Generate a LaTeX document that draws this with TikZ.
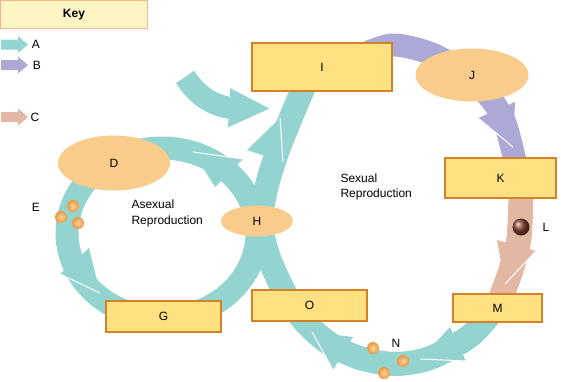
\documentclass[tikz,border=0pt]{standalone}
\usepackage{fontspec}
\setmainfont{Liberation Sans}
\usetikzlibrary{shapes,positioning}

\definecolor{tealband}{RGB}{148,212,208}
\definecolor{purpleband}{RGB}{173,169,214}
\definecolor{pinkband}{RGB}{226,183,164}
\definecolor{boxfill}{RGB}{255,225,130}
\definecolor{boxline}{RGB}{212,130,42}
\definecolor{blobfill}{RGB}{250,204,140}
\definecolor{keyfill}{RGB}{255,244,196}
\definecolor{keyline}{RGB}{242,180,140}
\definecolor{beadin}{RGB}{253,214,160}
\definecolor{beadout}{RGB}{236,150,62}
\definecolor{seedc}{RGB}{135,70,50}

% tip, barb with white edge, other barb, colour
\newcommand{\fathead}[4]{\fill[#4] #1 -- #2 -- #3 -- cycle; \draw[white, line width=1pt] #1 -- #2;}
% small key arrow at height #1
\newcommand{\keyarrow}[2]{\fill[#2] (1,#1-5) -- (18,#1-5) -- (18,#1-8.5) -- (28,#1) -- (18,#1+8.5) -- (18,#1+5) -- (1,#1+5) -- cycle;}

\begin{document}
\begin{tikzpicture}[x=1pt,y=-1pt,font=\fontsize{12}{15.5}\selectfont]
\tikzstyle{block} = [rectangle, draw=boxline, line width=1.5pt, fill=boxfill, inner sep=0pt]
\tikzstyle{blob} = [ellipse, fill=blobfill, inner sep=0pt]
\tikzstyle{band} = [line width=24pt, line cap=butt]
\tikzstyle{bead} = [circle, inner color=beadin, outer color=beadout, minimum size=12pt, inner sep=0pt]

\useasboundingbox (0,0) rectangle (561,381);

% key
\node [rectangle, draw=keyline, line width=1.5pt, fill=keyfill, minimum width=147pt, minimum height=28pt, inner sep=0pt, font=\fontsize{12}{15}\selectfont\bfseries] (key) at (74,14.5) {Key};
\keyarrow{44.5}{tealband}
\keyarrow{65}{purpleband}
\keyarrow{117}{pinkband}
\node (keya) at (36,44) {A};
\node (keyb) at (37,65) {B};
\node (keyc) at (35,117) {C};

% bands
\draw[band, tealband, line width=23pt] (162,233) ellipse [x radius=95, y radius=85];
\draw[band, tealband] plot[smooth] coordinates {(495,308) (470,336) (430,358) (395,364) (360,358) (330,344) (305,322) (285,293) (268,255) (261,221) (267,185) (278,150) (292,115) (306,82)};
\draw[band, tealband, line width=22pt] (185,77) .. controls (197,95) and (212,106) .. (232,108);
\draw[band, purpleband, line width=23pt] plot[smooth] coordinates {(355,58) (392,45) (432,54) (465,74) (490,98) (505,123) (516,165)};
\draw[band, pinkband, line width=25pt] plot[smooth] coordinates {(521,192) (519,238) (511,270) (500,300)};

% heads
\fathead{(100,293)}{(60,274)}{(89,248)}{tealband}
\fathead{(193,152)}{(243,159)}{(215,187)}{tealband}
\fathead{(420,359)}{(466,361)}{(450,327)}{tealband}
\fathead{(312,332)}{(333,370)}{(353,337)}{tealband}
\fathead{(280,118)}{(283,162)}{(247,150)}{tealband}
\fathead{(270,109)}{(228,128)}{(230,88)}{tealband}
\fathead{(513,147)}{(478,118)}{(515,102)}{purpleband}
\fathead{(505,284)}{(536,251)}{(497,240)}{pinkband}

% stages
\node [block, minimum width=140pt, minimum height=48pt] (i) at (322,67) {I};
\node [block, minimum width=111pt, minimum height=40pt] (k) at (500.5,178) {K};
\node [block, minimum width=89pt, minimum height=28pt] (m) at (497.5,308) {M};
\node [block, minimum width=115pt, minimum height=31pt] (o) at (309.5,305.5) {O};
\node [block, minimum width=115pt, minimum height=31pt] (g) at (163.5,316.5) {G};
\node [blob, minimum width=112pt, minimum height=55pt] (d) at (114,163) {D};
\node [blob, minimum width=72pt, minimum height=31pt] (h) at (257,221) {H};
\node [blob, minimum width=113pt, minimum height=53pt] (j) at (472,75) {J};

% spores and seed
\node [bead] (e1) at (73,206) {};
\node [bead] (e2) at (61,217) {};
\node [bead] (e3) at (78,223) {};
\node [bead] (n1) at (373,348) {};
\node [bead] (n2) at (403,361) {};
\node [bead] (n3) at (384,373) {};
\node [circle, ball color=seedc, minimum size=17pt, inner sep=0pt] (l1) at (521,227) {};
\node (e) at (36,207) {E};
\node (n) at (396,343) {N};
\node (l) at (546,227) {L};

\node [align=left, anchor=west] (asex) at (128,213.5) {Asexual\\Reproduction};
\node [align=left, anchor=west] (sex) at (337,187) {Sexual\\Reproduction};
\end{tikzpicture}
\end{document}
